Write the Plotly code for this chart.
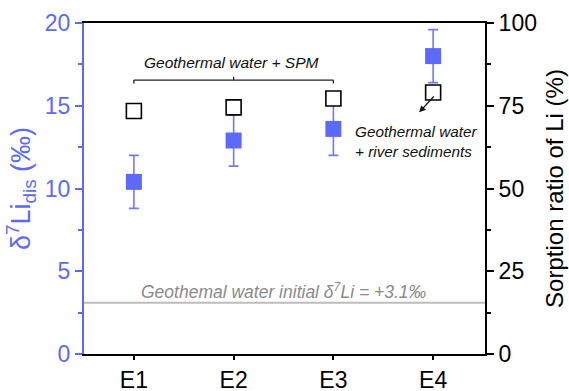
import plotly.graph_objects as go

categories = ["E1", "E2", "E3", "E4"]
d7li_dis = [10.4, 12.9, 13.6, 18.0]
d7li_err = [1.6, 1.55, 1.6, 1.6]
sorption_ratio = [73.4, 74.5, 77.2, 79.0]
initial_d7li = 3.1
bracket_level = 16.55

BLUE = "#5B6BF8"
FONT = "Liberation Sans, Arial, sans-serif"

fig = go.Figure()

fig.add_trace(go.Scatter(
    x=categories, y=d7li_dis, mode="markers",
    marker=dict(symbol="square", size=16, color=BLUE, line=dict(width=0)),
    error_y=dict(type="data", array=d7li_err, visible=True, color="#6E7CF8",
                 thickness=1.6, width=5),
    yaxis="y", showlegend=False,
))

fig.add_trace(go.Scatter(
    x=categories, y=sorption_ratio, mode="markers",
    marker=dict(symbol="square", size=15, color="white",
                line=dict(color="black", width=1.6)),
    yaxis="y2", showlegend=False,
))

# horizontal line for initial value
fig.add_shape(type="line", xref="paper", yref="y", x0=0, x1=1,
              y0=initial_d7li, y1=initial_d7li,
              line=dict(color="#BDBDBD", width=2))

# bracket over E1..E3
b0, b1, bm = 0, 2, 1
fig.add_shape(type="line", xref="x", yref="y", x0=b0, x1=b1,
              y0=bracket_level, y1=bracket_level, line=dict(color="#222", width=1.3))
for xb in (b0, b1):
    fig.add_shape(type="line", xref="x", yref="y", x0=xb, x1=xb,
                  y0=bracket_level, y1=bracket_level - 0.2,
                  line=dict(color="#222", width=1.3))
fig.add_shape(type="line", xref="x", yref="y", x0=bm, x1=bm,
              y0=bracket_level, y1=bracket_level + 0.2,
              line=dict(color="#222", width=1.3))

fig.add_annotation(x=0.98, y=bracket_level + 1.05, xref="x", yref="y",
                   text="<i>Geothermal water + SPM</i>", showarrow=False,
                   font=dict(family=FONT, size=15.5, color="#111"))

fig.add_annotation(x=2.2, y=12.85, xref="x", yref="y", xanchor="left",
                   align="left",
                   text="<i>Geothermal water<br>+ river sediments</i>",
                   showarrow=False,
                   font=dict(family=FONT, size=15.3, color="#111"))

fig.add_annotation(x=2.86, y=14.6, xref="x", yref="y",
                   ax=3.02, ay=15.65, axref="x", ayref="y",
                   text="", showarrow=True, arrowhead=2, arrowsize=1.0,
                   arrowwidth=1.3, arrowcolor="#111")

fig.add_annotation(x=1.5, y=initial_d7li + 0.7, xref="x", yref="y",
                   text="<i>Geothemal water initial δ<sup>7</sup>Li = +3.1‰</i>",
                   showarrow=False,
                   font=dict(family=FONT, size=17.5, color="#8A8A8A"))

fig.update_layout(
    width=569, height=391,
    margin=dict(l=84, r=84, t=23, b=37, autoexpand=False),
    plot_bgcolor="white", paper_bgcolor="white",
    font=dict(family=FONT),
    xaxis=dict(
        type="category", range=[-0.5, 3.52], automargin=False,
        showline=True, linecolor="black", linewidth=2, mirror=True,
        ticks="outside", ticklen=4, tickwidth=1.5, tickcolor="black",
        tickfont=dict(size=23, color="black"), showgrid=False, zeroline=False,
    ),
    yaxis=dict(
        range=[0, 20], tickvals=[0, 5, 10, 15, 20], automargin=False,
        showline=True, linecolor=BLUE, linewidth=2,
        ticks="outside", ticklen=7, tickwidth=1.5, tickcolor=BLUE,
        minor=dict(dtick=2.5, tick0=0, ticks="outside", ticklen=4, tickcolor=BLUE, showgrid=False),
        tickfont=dict(size=23, color=BLUE),
        title=dict(text="δ<sup>7</sup>Li<sub>dis</sub> (‰)", font=dict(size=27, color=BLUE), standoff=6),
        showgrid=False, zeroline=False,
    ),
    yaxis2=dict(
        range=[0, 100], tickvals=[0, 25, 50, 75, 100], overlaying="y", side="right",
        automargin=False,
        showline=True, linecolor="black", linewidth=2,
        ticks="outside", ticklen=7, tickwidth=1.5, tickcolor="black",
        minor=dict(dtick=12.5, tick0=0, ticks="outside", ticklen=4, tickcolor="black", showgrid=False),
        tickfont=dict(size=23, color="black"),
        title=dict(text="Sorption ratio of Li (%)", font=dict(size=24, color="black"), standoff=10),
        showgrid=False, zeroline=False,
    ),
)

fig.write_html("out.html")
